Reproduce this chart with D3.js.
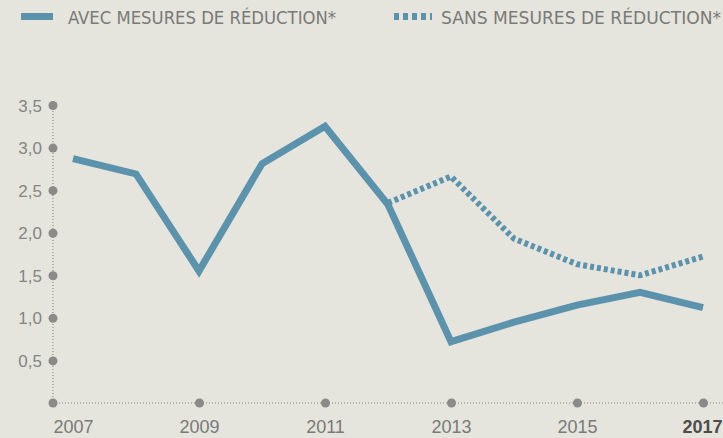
<!DOCTYPE html>
<html>
<head>
<meta charset="utf-8">
<script src="https://cdn.jsdelivr.net/npm/d3@7"></script>
<style>
  html, body { margin: 0; padding: 0; background: #e5e4dd; }
  svg { display: block; font-family: "Liberation Sans Narrow", "DejaVu Sans Condensed", "Roboto", sans-serif; }
</style>
</head>
<body>
<div id="chart"></div>
<script>
const years = [2007, 2008, 2009, 2010, 2011, 2012, 2013, 2014, 2015, 2016, 2017];
const withMeasures = [2.87, 2.69, 1.55, 2.81, 3.25, 2.33, 0.72, 0.95, 1.15, 1.30, 1.12];
const withoutYears = [2012, 2013, 2014, 2015, 2016, 2017];
const withoutMeasures = [2.35, 2.66, 1.93, 1.63, 1.50, 1.72];
const yTicks = [0.5, 1.0, 1.5, 2.0, 2.5, 3.0, 3.5];
const xTicks = [2007, 2009, 2011, 2013, 2015, 2017];
const legendLabels = ["AVEC MESURES DE RÉDUCTION*", "SANS MESURES DE RÉDUCTION*"];

const width = 723;
const height = 438;
const BLUE = "#5b93ad";
const GREY = "#8a8a88";

const svg = d3.select("#chart").append("svg")
  .attr("width", width)
  .attr("height", height)
  .attr("viewBox", `0 0 ${width} ${height}`);

svg.append("rect").attr("width", width).attr("height", height).attr("fill", "#e5e4dd");

const x = d3.scaleLinear().domain([2007, 2017]).range([73, 703]);
const y = d3.scaleLinear().domain([0, 3.5]).range([403, 105]);
const axisX0 = 53;

const fr = d3.formatLocale({ decimal: ",", thousands: " ", grouping: [3], currency: ["", " €"] });
const fmt = fr.format(".1f");

// dotted axis lines
svg.append("line")
  .attr("x1", axisX0).attr("x2", axisX0)
  .attr("y1", y(0)).attr("y2", y(3.5))
  .attr("stroke", GREY).attr("stroke-width", 1.2)
  .attr("stroke-dasharray", "1 2");

svg.append("line")
  .attr("x1", axisX0).attr("x2", width)
  .attr("y1", y(0)).attr("y2", y(0))
  .attr("stroke", GREY).attr("stroke-width", 1.2)
  .attr("stroke-dasharray", "1 2");

// y axis
const gy = svg.append("g")
  .attr("transform", `translate(${axisX0},0)`)
  .call(d3.axisLeft(y).tickValues(yTicks).tickSize(0).tickPadding(11).tickFormat(fmt));
gy.select(".domain").remove();
gy.selectAll(".tick text")
  .attr("fill", "#858583")
  .style("font-size", "17px")
  .attr("dy", "0.36em");
gy.selectAll(".tick").append("circle").attr("r", 4.5).attr("fill", GREY);

// origin dot
svg.append("circle").attr("cx", axisX0).attr("cy", y(0)).attr("r", 4.5).attr("fill", GREY);

// x axis
const gx = svg.append("g")
  .attr("transform", `translate(0,${y(0)})`)
  .call(d3.axisBottom(x).tickValues(xTicks).tickSize(0).tickFormat(d3.format("d")));
gx.select(".domain").remove();
gx.selectAll(".tick text")
  .attr("y", 30)
  .attr("dy", 0)
  .attr("x", d => d === 2017 ? 19 : 0)
  .attr("text-anchor", d => d === 2017 ? "end" : "middle")
  .attr("fill", d => d === 2017 ? "#4d4d4b" : "#7a7a78")
  .style("font-weight", d => d === 2017 ? "bold" : "normal")
  .style("font-size", "18px");
gx.selectAll(".tick").filter(d => d !== 2007)
  .append("circle").attr("r", 4.5).attr("fill", GREY);

// lines
const line = d3.line().x(d => x(d[0])).y(d => y(d[1]));

svg.append("path")
  .datum(withoutYears.map((yr, i) => [yr, withoutMeasures[i]]))
  .attr("d", line)
  .attr("fill", "none")
  .attr("stroke", BLUE)
  .attr("stroke-width", 6)
  .attr("stroke-dasharray", "4 3");

svg.append("path")
  .datum(years.map((yr, i) => [yr, withMeasures[i]]))
  .attr("d", line)
  .attr("fill", "none")
  .attr("stroke", BLUE)
  .attr("stroke-width", 7)
  .attr("stroke-linejoin", "miter");

// legend
const lg = svg.append("g");
lg.append("rect").attr("x", 21).attr("y", 13).attr("width", 32).attr("height", 7).attr("fill", BLUE);
lg.append("text").attr("x", 68).attr("y", 24)
  .attr("fill", "#7a7a78").style("font-size", "17px")
  .attr("textLength", 268).attr("lengthAdjust", "spacingAndGlyphs")
  .text(legendLabels[0]);

lg.append("line").attr("x1", 394).attr("x2", 432).attr("y1", 16.5).attr("y2", 16.5)
  .attr("stroke", BLUE).attr("stroke-width", 7).attr("stroke-dasharray", "5 4");
lg.append("text").attr("x", 441).attr("y", 24)
  .attr("fill", "#7a7a78").style("font-size", "17px")
  .attr("textLength", 280).attr("lengthAdjust", "spacingAndGlyphs")
  .text(legendLabels[1]);
</script>
</body>
</html>
